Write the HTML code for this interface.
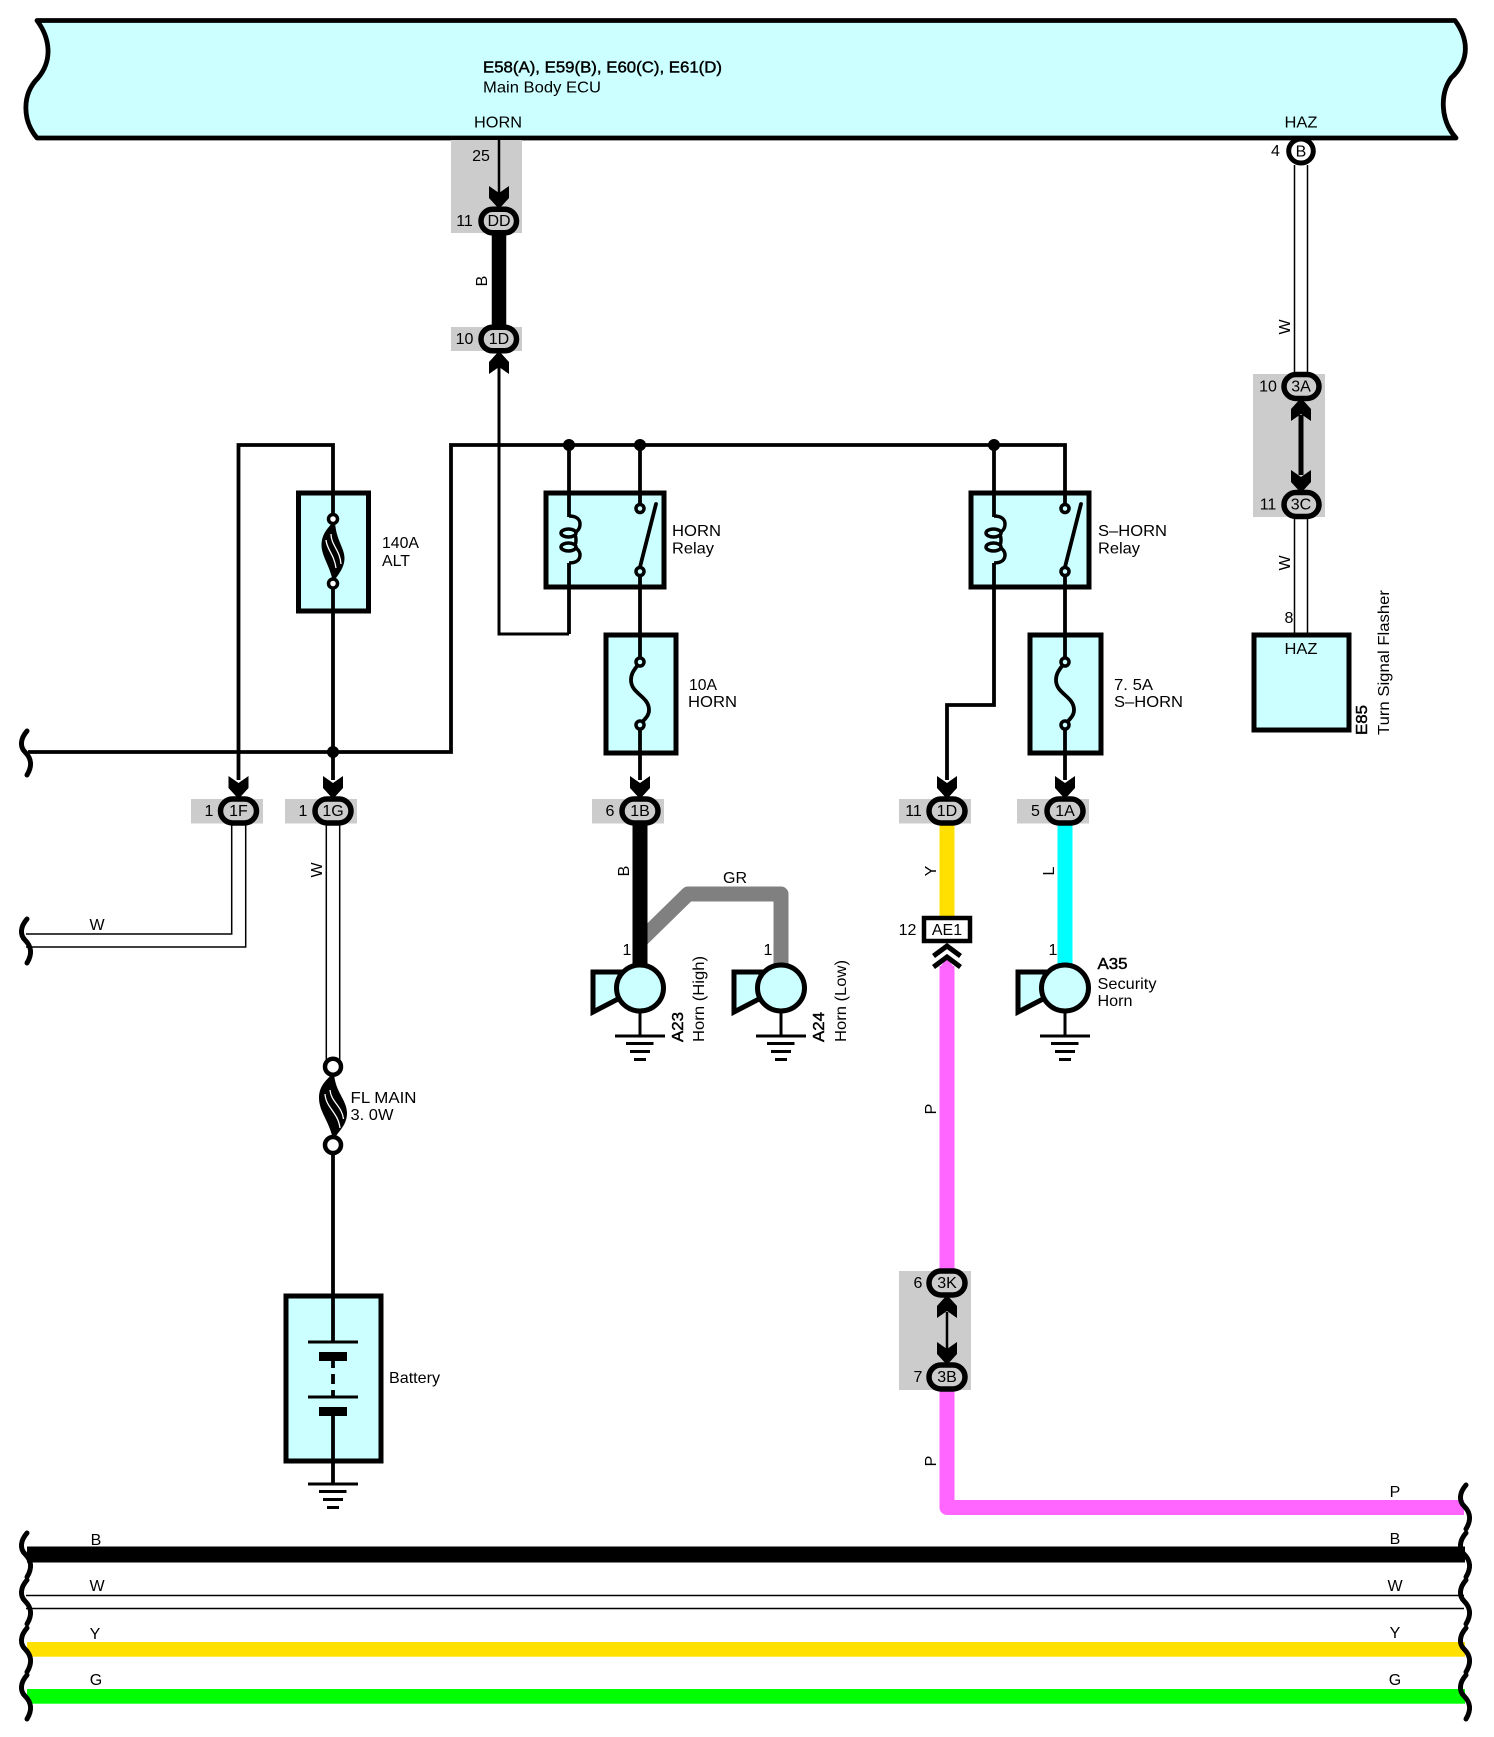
<!DOCTYPE html>
<html>
<head>
<meta charset="utf-8">
<title>Horn wiring diagram</title>
<style>
html,body{margin:0;padding:0;background:#fff;}
svg{display:block;}
text{font-family:"Liberation Sans",sans-serif;font-size:16px;fill:#000;}
.c{text-anchor:middle;}
.b{font-weight:bold;}
.w{fill:none;stroke:#000;stroke-width:3.8;}
.box{fill:#ccffff;stroke:#000;stroke-width:5;stroke-linejoin:miter;}
.brk{fill:none;stroke:#000;stroke-width:5;stroke-linecap:round;}
.con{fill:#cccccc;stroke:#000;stroke-width:5.5;}
.g{fill:#cccccc;}
.wl{stroke:#000;stroke-width:1.5;fill:none;}
.gnd{stroke:#000;stroke-width:3;fill:none;}
</style>
</head>
<body>
<svg xmlns="http://www.w3.org/2000/svg" width="1494" height="1737" viewBox="0 0 1494 1737">
<rect width="1494" height="1737" fill="#fff"/>
<defs>
<polygon id="ad" points="-10,0 0,7 10,0 10,12 0,23 -10,12" fill="#000"/>
<polygon id="au" points="-10,0 0,-7 10,0 10,-12 0,-23 -10,-12" fill="#000"/>
<path id="brk" class="brk" d="M27,0 C20,8 20,16 25,21 C31,27 33,34 27,44"/>
<g id="gnd">
<path class="gnd" d="M0,0V24M-25,24H25M-14,31.500H13.500M-10,39.500H10M-6,47.500H6"/>
</g>
<g id="horn">
<path d="M-47,-16 H-20 V10 L-47,24Z" fill="#ccffff" stroke="#000" stroke-width="5" stroke-linejoin="miter"/>
<ellipse cx="0" cy="0" rx="23.500" ry="23" fill="#ccffff" stroke="#000" stroke-width="5"/>
</g>
</defs>

<!-- ECU -->
<path d="M37,20.500 H1455 C1468,38 1471,60 1451,78 C1440,94 1440,120 1456,138 H37 C22,120 22,94 38,78 C53,60 50,38 37,20.500Z" fill="#ccffff" stroke="#000" stroke-width="4.800" stroke-linejoin="round"/>
<text x="483" y="72.500" style="font-weight:normal" textLength="239" lengthAdjust="spacingAndGlyphs" stroke="#000" stroke-width=".45">E58(A), E59(B), E60(C), E61(D)</text>
<text x="483" y="92.500" textLength="118" lengthAdjust="spacingAndGlyphs">Main Body ECU</text>
<text x="498" y="127.500" class="c" textLength="48" lengthAdjust="spacingAndGlyphs">HORN</text>
<text x="1301" y="127.500" class="c" textLength="33" lengthAdjust="spacingAndGlyphs">HAZ</text>

<!-- grey connector backgrounds -->
<rect class="g" x="451" y="140" width="71" height="93"/>
<rect class="g" x="451" y="327" width="71" height="24"/>
<rect class="g" x="1253" y="374" width="72" height="143"/>
<rect class="g" x="191" y="799" width="72" height="24.500"/>
<rect class="g" x="285" y="799" width="72" height="24.500"/>
<rect class="g" x="592" y="799" width="72" height="24.500"/>
<rect class="g" x="899" y="799" width="72" height="24.500"/>
<rect class="g" x="1017" y="799" width="72" height="24.500"/>
<rect class="g" x="899" y="1271" width="72" height="119"/>

<!-- coloured wires -->
<path d="M640,941 L688,894 H781 V966" fill="none" stroke="#808080" stroke-width="15" stroke-linejoin="round"/>
<path d="M640,825V966" stroke="#000" stroke-width="15" fill="none"/>
<path d="M499,235V327" stroke="#000" stroke-width="14.500" fill="none"/>
<path d="M947,825V916" stroke="#ffe000" stroke-width="15" fill="none"/>
<path d="M1065,825V966" stroke="#00ffff" stroke-width="15" fill="none"/>
<path d="M947,966V1270M947,1391V1507.500H1464" stroke="#ff66ff" stroke-width="15" fill="none" stroke-linejoin="round"/>
<polygon points="939.500,968 947,958 954.500,968" fill="#ff66ff"/>
<rect x="27" y="1546.500" width="1438" height="16"/>
<rect x="27" y="1642" width="1438" height="14.700" fill="#ffe000"/>
<rect x="27" y="1689" width="1438" height="14.700" fill="#00ff00"/>
<path class="wl" d="M26,1595.500H1464M26,1608.500H1464"/>

<!-- white wires -->
<path class="wl" d="M1294.500,165V375M1307.500,165V375M1294.500,518V634M1307.500,518V634"/>
<path class="wl" d="M231.700,822V934H26M245.700,822V947H26"/>
<path class="wl" d="M326.300,822V1060M339.700,822V1060"/>

<!-- black upper wires -->
<path d="M499,138V195" stroke="#000" stroke-width="2.500" fill="none"/>
<path d="M499,365V634H569" stroke="#000" stroke-width="3" fill="none"/>

<!-- boxes -->
<rect class="box" x="298.500" y="493" width="70" height="118"/>
<rect class="box" x="546" y="493" width="118" height="94"/>
<rect class="box" x="971" y="493" width="118" height="94"/>
<rect class="box" x="606" y="635" width="70" height="118"/>
<rect class="box" x="1030" y="635" width="71" height="118"/>
<rect class="box" x="286" y="1296" width="95" height="165"/>
<rect class="box" x="1254" y="635" width="95" height="95"/>

<path class="w" d="M238.500,780V445H333V519M333,584V780"/>
<path class="w" d="M28,752H451V445H1065V504M1065,575V662M1065,725V780"/>
<path class="w" d="M640,445V504M640,575V662M640,725V780"/>
<path class="w" d="M569,445V517M569,563V634"/>
<path class="w" d="M994,445V517M994,563V705H947V780"/>

<!-- junctions -->
<circle cx="569" cy="445" r="6"/><circle cx="640" cy="445" r="6"/><circle cx="994" cy="445" r="6"/><circle cx="333" cy="752" r="6"/>

<!-- relays -->
<g>
<path d="M569,516 c7,0 11,3 11,8 c0,5 -3,8 -7,9 M573,547 c4,1 7,4 7,8 c0,5 -4,8 -11,8" fill="none" stroke="#000" stroke-width="3.500"/>
<path d="M573,533 c4,2 4,12 0,14" fill="none" stroke="#000" stroke-width="3.500"/>
<ellipse cx="568.500" cy="533" rx="7.500" ry="4" fill="#ccffff" stroke="#000" stroke-width="3.500"/>
<ellipse cx="568.500" cy="547" rx="7.500" ry="4" fill="#ccffff" stroke="#000" stroke-width="3.500"/>
<path d="M639,571 L656,504" stroke="#000" stroke-width="3.800" fill="none" stroke-linecap="round"/>
<circle cx="640" cy="508.500" r="4" fill="#ccffff" stroke="#000" stroke-width="3.500"/>
<circle cx="640" cy="571.500" r="4" fill="#ccffff" stroke="#000" stroke-width="3.500"/>
</g>
<g transform="translate(425,0)">
<path d="M569,516 c7,0 11,3 11,8 c0,5 -3,8 -7,9 M573,547 c4,1 7,4 7,8 c0,5 -4,8 -11,8" fill="none" stroke="#000" stroke-width="3.500"/>
<path d="M573,533 c4,2 4,12 0,14" fill="none" stroke="#000" stroke-width="3.500"/>
<ellipse cx="568.500" cy="533" rx="7.500" ry="4" fill="#ccffff" stroke="#000" stroke-width="3.500"/>
<ellipse cx="568.500" cy="547" rx="7.500" ry="4" fill="#ccffff" stroke="#000" stroke-width="3.500"/>
<path d="M639,571 L656,504" stroke="#000" stroke-width="3.800" fill="none" stroke-linecap="round"/>
<circle cx="640" cy="508.500" r="4" fill="#ccffff" stroke="#000" stroke-width="3.500"/>
<circle cx="640" cy="571.500" r="4" fill="#ccffff" stroke="#000" stroke-width="3.500"/>
</g>

<!-- thin fuses -->
<g fill="none" stroke="#000" stroke-width="3.800">
<path d="M640,662 C636,668 631,672 631,680 C631,694 649,696 649,710 C649,717 643,720 640,725"/>
<path d="M1065,662 C1061,668 1056,672 1056,680 C1056,694 1074,696 1074,710 C1074,717 1068,720 1065,725"/>
</g>
<g fill="#ccffff" stroke="#000" stroke-width="3.500">
<circle cx="640" cy="662" r="4"/><circle cx="640" cy="725" r="4"/>
<circle cx="1065" cy="662" r="4"/><circle cx="1065" cy="725" r="4"/>
</g>

<!-- 140A fuse -->
<g>
<path d="M333,522 C328,528 321.500,534 321.500,545 C321.500,556 330,566 333,582 C338,575 344.500,568 344.500,558 C344.500,548 336,540 335,522 Z" fill="#000"/>
<path d="M326,540 C327,550 334,554 336,568 M331,534 C331,545 340,550 341,564" fill="none" stroke="#fff" stroke-width="1.300"/>
<circle cx="333" cy="519" r="4.500" fill="#fff" stroke="#000" stroke-width="3.500"/>
<circle cx="333" cy="583.500" r="4.500" fill="#fff" stroke="#000" stroke-width="3.500"/>
</g>

<!-- FL main fuse -->
<g>
<path d="M333,1073 C327,1080 319,1085 319,1098 C319,1112 330,1122 333,1140 C339,1131 347,1125 347,1113 C347,1100 335,1092 334,1073 Z" fill="#000"/>
<path d="M325,1094 C326,1108 338,1112 340,1128 M330,1090 C331,1102 342,1106 343.500,1119" fill="none" stroke="#fff" stroke-width="1.300"/>
<circle cx="333" cy="1066.700" r="8" fill="#fff" stroke="#000" stroke-width="4.500"/>
<circle cx="333" cy="1145" r="8" fill="#fff" stroke="#000" stroke-width="4.500"/>
</g>
<path d="M333,1153V1342M333,1361V1368M333,1374V1384M333,1390V1397M333,1416V1484" stroke="#000" stroke-width="3.800" fill="none"/>
<rect x="286" y="1296" width="95" height="165" fill="none" stroke="#000" stroke-width="5"/>
<path d="M308,1342H358M308,1397H358" stroke="#000" stroke-width="3" fill="none"/>
<rect x="319" y="1352" width="28" height="9"/>
<rect x="319" y="1407" width="28" height="9"/>
<use href="#gnd" x="333" y="1460"/>

<!-- arrows -->
<use href="#ad" x="499" y="186"/>
<use href="#au" x="499" y="374"/>
<use href="#au" x="1301" y="421"/>
<use href="#ad" x="1301" y="470"/>
<path d="M1301,415V475" stroke="#000" stroke-width="5" fill="none"/>
<use href="#ad" x="238.500" y="776"/>
<use href="#ad" x="333" y="776"/>
<use href="#ad" x="640" y="776"/>
<use href="#ad" x="947" y="776"/>
<use href="#ad" x="1065" y="776"/>
<use href="#au" x="947" y="1318"/>
<use href="#ad" x="947" y="1342"/>
<path d="M947,1312V1350" stroke="#000" stroke-width="2.500" fill="none"/>

<!-- connector ovals -->
<rect class="con" x="481" y="209.300" width="35.500" height="23.500" rx="11.700"/>
<rect class="con" x="481" y="327.300" width="35.500" height="23.500" rx="11.700"/>
<rect class="con" x="1284" y="374.500" width="35" height="24" rx="12"/>
<rect class="con" x="1284" y="492.500" width="35" height="24" rx="12"/>
<rect class="con" x="220.500" y="799" width="36" height="24" rx="12"/>
<rect class="con" x="315" y="799" width="36" height="24" rx="12"/>
<rect class="con" x="622" y="799" width="36" height="24" rx="12"/>
<rect class="con" x="929" y="799" width="36" height="24" rx="12"/>
<rect class="con" x="1047" y="799" width="36" height="24" rx="12"/>
<rect class="con" x="929" y="1271" width="36" height="24" rx="12"/>
<rect class="con" x="929" y="1365" width="36" height="24" rx="12"/>
<ellipse cx="1301" cy="151" rx="12.300" ry="12" fill="#fff" stroke="#000" stroke-width="5"/>
<rect x="924" y="918" width="46" height="23" fill="#fff" stroke="#000" stroke-width="4.500"/>

<!-- chevrons AE1 -->
<path d="M933.500,956 L947,946 L960.500,956 M933.500,967 L947,957 L960.500,967" fill="none" stroke="#000" stroke-width="5"/>

<!-- horns -->
<use href="#gnd" x="640" y="1012"/>
<use href="#gnd" x="781" y="1012"/>
<use href="#gnd" x="1065" y="1012"/>
<use href="#horn" x="640" y="988"/>
<use href="#horn" x="781" y="988"/>
<use href="#horn" x="1065" y="988"/>

<!-- breaks -->
<use href="#brk" y="731"/>
<use href="#brk" y="919"/>
<use href="#brk" y="1533"/>
<use href="#brk" y="1580"/>
<use href="#brk" y="1628"/>
<use href="#brk" y="1675"/>
<use href="#brk" x="1439" y="1485"/>
<use href="#brk" x="1439" y="1533"/>
<use href="#brk" x="1439" y="1580"/>
<use href="#brk" x="1439" y="1628"/>
<use href="#brk" x="1439" y="1675"/>

<!-- connector text -->
<g text-anchor="middle">
<text x="499" y="226">DD</text>
<text x="499" y="344">1D</text>
<text x="1301" y="156.500">B</text>
<text x="1301" y="391.500">3A</text>
<text x="1301" y="509.500">3C</text>
<text x="238.500" y="816">1F</text>
<text x="333" y="816">1G</text>
<text x="640" y="816">1B</text>
<text x="947" y="816">1D</text>
<text x="1065" y="816">1A</text>
<text x="947" y="935">AE1</text>
<text x="947" y="1288">3K</text>
<text x="947" y="1382">3B</text>
<!-- pin numbers -->
<text x="481" y="161">25</text>
<text x="464.500" y="226">11</text>
<text x="464.500" y="344">10</text>
<text x="1275.500" y="156">4</text>
<text x="1268" y="391.500">10</text>
<text x="1268" y="509.500">11</text>
<text x="1289" y="623">8</text>
<text x="209" y="816">1</text>
<text x="303" y="816">1</text>
<text x="610" y="816">6</text>
<text x="913.500" y="816">11</text>
<text x="1035.500" y="816">5</text>
<text x="907.500" y="935">12</text>
<text x="918" y="1288">6</text>
<text x="918" y="1382">7</text>
<text x="627" y="955">1</text>
<text x="768" y="955">1</text>
<text x="1053" y="955">1</text>
<!-- horizontal wire labels -->
<text x="97" y="930">W</text>
<text x="735" y="883">GR</text>
<text x="96" y="1545">B</text>
<text x="97" y="1591">W</text>
<text x="95" y="1639">Y</text>
<text x="96" y="1685">G</text>
<text x="1395" y="1497">P</text>
<text x="1395" y="1544">B</text>
<text x="1395" y="1591">W</text>
<text x="1395" y="1638">Y</text>
<text x="1395" y="1685">G</text>
<text x="1301" y="654" textLength="33" lengthAdjust="spacingAndGlyphs">HAZ</text>
<!-- rotated wire labels -->
<text transform="translate(487,281) rotate(-90)">B</text>
<text transform="translate(1290,327) rotate(-90)">W</text>
<text transform="translate(1290,563) rotate(-90)">W</text>
<text transform="translate(322,870) rotate(-90)">W</text>
<text transform="translate(629,871) rotate(-90)">B</text>
<text transform="translate(936,871) rotate(-90)">Y</text>
<text transform="translate(1054,871) rotate(-90)">L</text>
<text transform="translate(936,1109) rotate(-90)">P</text>
<text transform="translate(936,1461) rotate(-90)">P</text>
</g>

<!-- component labels -->
<text x="382" y="548" textLength="37" lengthAdjust="spacingAndGlyphs">140A</text>
<text x="382" y="566" textLength="28" lengthAdjust="spacingAndGlyphs">ALT</text>
<text x="672" y="536" textLength="49" lengthAdjust="spacingAndGlyphs">HORN</text>
<text x="672" y="553.500" textLength="42" lengthAdjust="spacingAndGlyphs">Relay</text>
<text x="689" y="690" textLength="28" lengthAdjust="spacingAndGlyphs">10A</text>
<text x="688" y="707" textLength="49" lengthAdjust="spacingAndGlyphs">HORN</text>
<text x="1098" y="536" textLength="69" lengthAdjust="spacingAndGlyphs">S–HORN</text>
<text x="1098" y="553.500" textLength="42" lengthAdjust="spacingAndGlyphs">Relay</text>
<text x="1114" y="690" textLength="39" lengthAdjust="spacingAndGlyphs">7. 5A</text>
<text x="1114" y="707" textLength="69" lengthAdjust="spacingAndGlyphs">S–HORN</text>
<text x="350.500" y="1103" textLength="66" lengthAdjust="spacingAndGlyphs">FL MAIN</text>
<text x="350.500" y="1120" textLength="43" lengthAdjust="spacingAndGlyphs">3. 0W</text>
<text x="389" y="1383" textLength="51" lengthAdjust="spacingAndGlyphs">Battery</text>
<text x="1097.500" y="969" style="font-weight:normal" stroke="#000" stroke-width=".45" textLength="30" lengthAdjust="spacingAndGlyphs">A35</text>
<text x="1097.500" y="989" textLength="59" lengthAdjust="spacingAndGlyphs">Security</text>
<text x="1097.500" y="1006" textLength="35" lengthAdjust="spacingAndGlyphs">Horn</text>
<text transform="translate(683,1042) rotate(-90)" style="font-weight:normal" stroke="#000" stroke-width=".45" textLength="30" lengthAdjust="spacingAndGlyphs">A23</text>
<text transform="translate(704,1042) rotate(-90)" textLength="86" lengthAdjust="spacingAndGlyphs">Horn (High)</text>
<text transform="translate(824,1042) rotate(-90)" style="font-weight:normal" stroke="#000" stroke-width=".45" textLength="30" lengthAdjust="spacingAndGlyphs">A24</text>
<text transform="translate(846,1042) rotate(-90)" textLength="82" lengthAdjust="spacingAndGlyphs">Horn (Low)</text>
<text transform="translate(1367,735) rotate(-90)" style="font-weight:normal" stroke="#000" stroke-width=".45" textLength="30" lengthAdjust="spacingAndGlyphs">E85</text>
<text transform="translate(1389,735) rotate(-90)" textLength="145" lengthAdjust="spacingAndGlyphs">Turn Signal Flasher</text>
</svg>
</body>
</html>
